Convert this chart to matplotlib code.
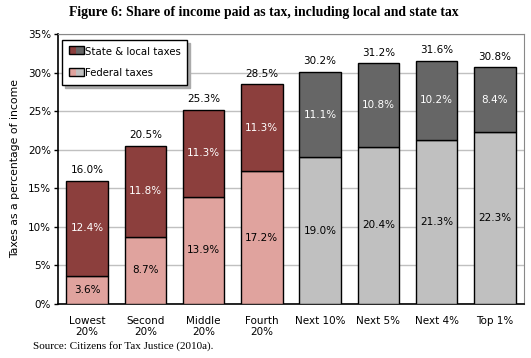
import matplotlib
matplotlib.use("Agg")
from matplotlib import pyplot as plt
from matplotlib.patches import Rectangle

groups = ["Lowest\n20%", "Second\n20%", "Middle\n20%", "Fourth\n20%",
          "Next 10%", "Next 5%", "Next 4%", "Top 1%"]
federal = [3.6, 8.7, 13.9, 17.2, 19.0, 20.4, 21.3, 22.3]
state_local = [12.4, 11.8, 11.3, 11.3, 11.1, 10.8, 10.2, 8.4]
totals = [16.0, 20.5, 25.3, 28.5, 30.2, 31.2, 31.6, 30.8]

dark_red, light_red = "#8c3f3d", "#e0a39e"
dark_grey, light_grey = "#666666", "#c0c0c0"
fed_cols = [light_red] * 4 + [light_grey] * 4
state_cols = [dark_red] * 4 + [dark_grey] * 4

font = "DejaVu Sans"


class SplitHandler:
    # legend key: left half red, right half grey, black outline
    def __init__(self, c1, c2):
        self.c1, self.c2 = c1, c2

    def legend_artist(self, legend, orig_handle, fontsize, handlebox):
        x0, y0 = handlebox.xdescent, handlebox.ydescent
        w, h = handlebox.width, handlebox.height
        a = Rectangle((x0, y0), w / 2, h, facecolor=self.c1, edgecolor="none",
                      transform=handlebox.get_transform())
        b = Rectangle((x0 + w / 2, y0), w / 2, h, facecolor=self.c2, edgecolor="none",
                      transform=handlebox.get_transform())
        c = Rectangle((x0, y0), w, h, facecolor="none", edgecolor="black", linewidth=1,
                      transform=handlebox.get_transform())
        for p in (a, b, c):
            handlebox.add_artist(p)
        return c


fig = plt.figure(figsize=(5.31, 3.58), dpi=100)
ax = fig.add_axes([58 / 531, 54 / 358, 466 / 531, 270 / 358])

x = range(len(groups))
ax.bar(x, federal, width=0.71, color=fed_cols, edgecolor="black", linewidth=1.0, zorder=3)
ax.bar(x, state_local, bottom=federal, width=0.71, color=state_cols,
       edgecolor="black", linewidth=1.0, zorder=3)

for i in x:
    ax.text(i, federal[i] / 2, f"{federal[i]:.1f}%", ha="center", va="center",
            fontsize=7.5, family=font, color="black", zorder=4)
    ax.text(i, federal[i] + state_local[i] / 2, f"{state_local[i]:.1f}%", ha="center",
            va="center", fontsize=7.5, family=font, color="white", zorder=4)
    ax.annotate(f"{totals[i]:.1f}%", (i, federal[i] + state_local[i]), xytext=(0, 4),
                textcoords="offset points", ha="center", va="bottom", fontsize=7.5,
                family=font, zorder=4)

ax.set_xlim(-0.5, 7.5)
ax.set_ylim(0, 35)
ax.set_yticks(range(0, 36, 5))
ax.set_yticklabels([f"{v}%" for v in range(0, 36, 5)], fontsize=7.5, family=font)
ax.set_xticks(list(x))
ax.set_xticklabels(groups, fontsize=7.5, family=font, linespacing=1.05)
ax.tick_params(axis="x", length=0, pad=9)
ax.tick_params(axis="y", length=3, width=1, pad=2)
ax.yaxis.grid(True, color="#c0c0c0", linewidth=1, zorder=0)
ax.set_axisbelow(True)
for s in ["top", "right"]:
    ax.spines[s].set_color("#888888")
for s in ["left", "bottom"]:
    ax.spines[s].set_color("black")
    ax.spines[s].set_linewidth(1.2)
ax.set_ylabel("Taxes as a percentage of income", fontsize=7.8, family=font, labelpad=6)

k_state, k_fed = object(), object()
leg = ax.legend([k_state, k_fed], ["State & local taxes", "Federal taxes"],
                handler_map={k_state: SplitHandler(dark_red, dark_grey),
                             k_fed: SplitHandler(light_red, light_grey)},
                loc="upper left", bbox_to_anchor=(0.009, 0.978), fancybox=False,
                framealpha=1, edgecolor="black", prop={"family": font, "size": 7.3},
                handlelength=1.5, handleheight=0.85, handletextpad=0.1,
                labelspacing=1.15, borderpad=0.65, borderaxespad=0,
                shadow={"color": "#aaaaaa", "alpha": 1})
leg.get_frame().set_linewidth(1)
leg.set_zorder(5)

fig.text(0.497, 0.955, "Figure 6: Share of income paid as tax, including local and state tax",
         ha="center", fontsize=9.9, fontweight="bold", family="Liberation Serif")
fig.text(33 / 531, 1 - 346 / 358, "Source: Citizens for Tax Justice (2010a).",
         ha="left", va="center", fontsize=8, family="Liberation Serif")

fig.savefig("out.png", dpi=100)
